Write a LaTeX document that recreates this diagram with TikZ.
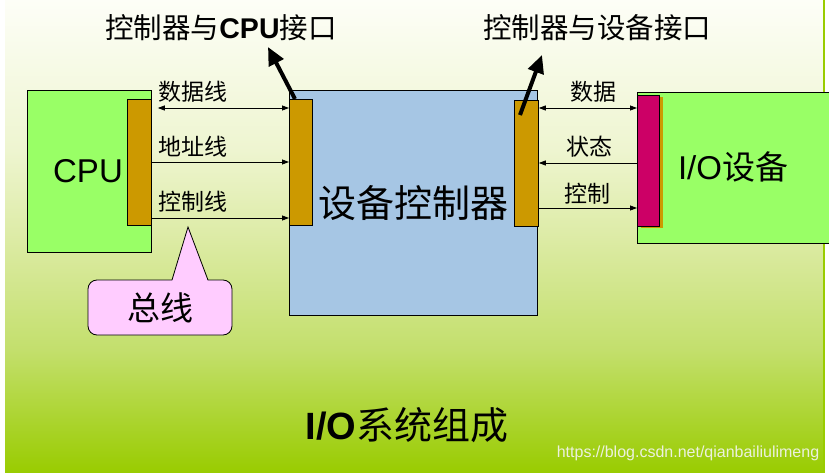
\documentclass[tikz,border=0pt]{standalone}
\usepackage{fontspec}
\setmainfont{Liberation Sans}
\newfontfamily\cjk{Noto Sans CJK SC}
\usetikzlibrary{arrows.meta,calc}
\definecolor{bgA}{HTML}{FDFEF7}
\definecolor{bgB}{HTML}{EEF5D0}
\definecolor{bgC}{HTML}{DCEBA4}
\definecolor{bgD}{HTML}{C3DF6C}
\definecolor{bgE}{HTML}{99CC00}
\definecolor{boxgreen}{HTML}{99FF66}
\definecolor{ctlblue}{HTML}{A6C6E4}
\definecolor{ifbrown}{HTML}{CC9900}
\definecolor{ifmagenta}{HTML}{CC0066}
\definecolor{calloutpink}{HTML}{FFCCFF}
\definecolor{wmark}{HTML}{ECF1DE}
\tikzset{
  box/.style={draw=black, line width=0.8pt, inner sep=0pt, anchor=north west},
  busline/.style={line width=0.8pt, arrows={-Triangle[length=7pt,width=5pt]}},
  busboth/.style={line width=0.8pt, arrows={Triangle[length=7pt,width=5pt]-Triangle[length=7pt,width=5pt]}},
  busback/.style={line width=0.8pt, arrows={Triangle[length=7pt,width=5pt]-}},
  thickarr/.style={line width=4pt, arrows={-Triangle[length=18pt,width=16pt]}},
  lbl/.style={inner sep=0pt, font=\fontsize{23}{25}\selectfont\cjk},
  bigtxt/.style={inner sep=0pt, font=\fontsize{33}{35}\selectfont},
  toptxt/.style={inner sep=0pt, font=\fontsize{28.5}{30}\selectfont},
}
\begin{document}
\begin{tikzpicture}[x=1pt,y=-1pt]
\useasboundingbox (0,0) rectangle (829,473);
\clip (0,0) rectangle (829,473);
% background
\fill[white] (0,0) rectangle (829,473);
\shade[top color=bgA, bottom color=bgB] (5,0) rectangle (824,150.5);
\shade[top color=bgB, bottom color=bgC] (5,150) rectangle (824,240.5);
\shade[top color=bgC, bottom color=bgD] (5,240) rectangle (824,350.5);
\shade[top color=bgD, bottom color=bgE] (5,350) rectangle (824,473);
\draw[bgE, line width=1.5pt] (824,0) -- (824,473);
% CPU
\node[box, fill=boxgreen, minimum width=124, minimum height=162] (cpu) at (27,90) {};
\node[box, fill=ifbrown, minimum width=24, minimum height=126] (cpuif) at (127,99) {};
\node[bigtxt] (cputxt) at (88,171) {CPU};
% controller
\node[box, fill=ctlblue, minimum width=248, minimum height=225] (ctl) at (289,90) {};
\node[box, fill=ifbrown, minimum width=23, minimum height=126] (ctlL) at (289,99) {};
\node[box, fill=ifbrown, minimum width=24, minimum height=126] (ctlR) at (514,100) {};
\node[inner sep=0pt, font=\fontsize{38}{40}\selectfont\cjk] (ctltxt) at (413,203) {设备控制器};
% I/O device
\node[box, fill=boxgreen, minimum width=200, minimum height=151] (io) at (637,92) {};
\node[box, draw=none, fill=ifbrown, minimum width=22, minimum height=131] (iosh) at (641,97) {};
\node[box, fill=ifmagenta, minimum width=22, minimum height=131] (ioif) at (637,95) {};
\node[bigtxt] (iotxt) at (733,167) {I/O{\cjk 设备}};
% left bus
\draw[busboth, shorten <=6pt] (cpuif.east |- 0,108) -- (ctlL.west |- 0,108);
\draw[busline] (cpuif.east |- 0,162) -- (ctlL.west |- 0,162);
\draw[busline] (cpuif.east |- 0,218) -- (ctlL.west |- 0,218);
\node[lbl, anchor=west] (l1) at (158,92) {数据线};
\node[lbl, anchor=west] (l2) at (158,147) {地址线};
\node[lbl, anchor=west] (l3) at (158,202) {控制线};
% right bus
\draw[busboth] (ctlR.east |- 0,108) -- (ioif.west |- 0,108);
\draw[busback] (ctlR.east |- 0,163) -- (ioif.west |- 0,163);
\draw[busline] (ctlR.east |- 0,208) -- (ioif.west |- 0,208);
\node[lbl] (r1) at (593,92) {数据};
\node[lbl] (r2) at (589,147) {状态};
\node[lbl] (r3) at (587,194) {控制};
% top labels and thick arrows
\node[toptxt] (cpulbl) at (221,28) {{\cjk 控制器与}\textbf{CPU}{\cjk 接口}};
\node[toptxt] (devlbl) at (597,28) {\cjk 控制器与设备接口};
\coordinate (tipL) at (268,47);
\coordinate (tipR) at (542,55);
\draw[thickarr] ($(ctlL.north west)+(6,0)$) -- (tipL);
\draw[thickarr] ($(ctlR.north west)+(6,15)$) -- (tipR);
% callout
\node[draw=black, line width=0.8pt, fill=calloutpink, rounded corners=9pt,
      minimum width=144, minimum height=55, inner sep=0pt,
      font=\fontsize{33}{35}\selectfont\cjk] (bus) at (160,307.5) {总线};
\coordinate (apex) at (188,227);
\coordinate (pl) at (172,280);
\coordinate (pr) at (208,280);
\fill[calloutpink] ($(pl)+(0,1.5)$) -- (apex) -- ($(pr)+(0,1.5)$) -- cycle;
\draw[line width=0.8pt, line join=miter] (pl) -- (apex) -- (pr);
% title and watermark
\node[inner sep=0pt, font=\fontsize{38}{40}\selectfont] (title) at (407,425) {\textbf{I/O}{\cjk 系统组成}};
\node[inner sep=0pt, font=\fontsize{16}{18}\selectfont, text=wmark] (wm) at (688,453) {https://blog.csdn.net/qianbailiulimeng};
\end{tikzpicture}
\end{document}
